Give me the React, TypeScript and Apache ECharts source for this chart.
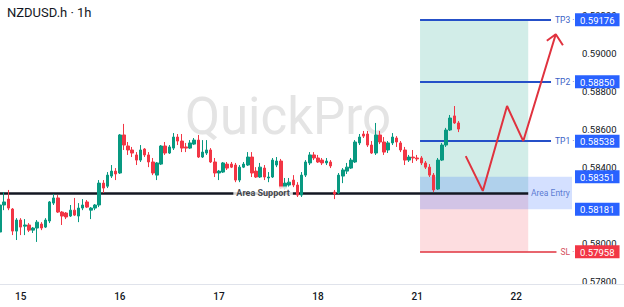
import React, { useEffect, useRef } from 'react';
import * as echarts from 'echarts';

const categoryCount = 139;
const dayLabels = ['15', '16', '17', '18', '21', '22'];
const dayStartIndex = [5, 29, 53, 77, 101, 125];

// hourly candles (NZDUSD.h, 1h)
const opens = [
  0.58061, 0.58203, 0.58234, 0.58182, 0.58066, 0.58124, 0.58092, 0.58098, 0.58071, 0.58082,
  0.58103, 0.58087, 0.58119, 0.58213, 0.5824, 0.58166, 0.58161, 0.58145, 0.58176, 0.58145,
  0.58187, 0.58219, 0.58176, 0.58187, 0.58203, 0.58318, 0.58302, 0.58355, 0.58381, 0.58371,
  0.58571, 0.58513, 0.58492, 0.58466, 0.58439, 0.58497, 0.58466, 0.58429, 0.5836, 0.58418,
  0.58513, 0.58476, 0.58502, 0.5856, 0.58539, 0.58508, 0.58502, 0.58523, 0.58544, 0.58455,
  0.58476, 0.58492, 0.58429, 0.58371, 0.58376, 0.58418, 0.58418, 0.58413, 0.58334, 0.58402,
  0.58413, 0.58455, 0.58381, 0.5835, 0.58397, 0.58345, 0.5835, 0.58413, 0.58434, 0.58292,
  0.58308, 0.58334, 0.58308, 0.58255, 0.5836, 0.58424, 0.58466, 0.5845, 0.58439, 0.58424,
  0.58429, 0.58271, 0.58266, 0.58355, 0.58381, 0.58397, 0.58429, 0.58529, 0.58576, 0.58576,
  0.58518, 0.58476, 0.58571, 0.58534, 0.58492, 0.58529, 0.58555, 0.58529, 0.58492, 0.58439,
  0.58455, 0.5845, 0.5845, 0.58424, 0.58402, 0.5836, 0.58287, 0.58439, 0.58518, 0.58597,
  0.58671, 0.58634,
];
const closes = [
  0.58203, 0.58219, 0.58187, 0.58066, 0.58124, 0.58087, 0.58098, 0.58071, 0.58082, 0.58113,
  0.58082, 0.58124, 0.58219, 0.5824, 0.58166, 0.58145, 0.5814, 0.58176, 0.5815, 0.58187,
  0.58203, 0.58192, 0.58187, 0.58203, 0.58318, 0.58292, 0.5836, 0.58381, 0.58366, 0.58571,
  0.58518, 0.58492, 0.58476, 0.58439, 0.58492, 0.58466, 0.58429, 0.58371, 0.58424, 0.58513,
  0.58476, 0.58508, 0.5856, 0.58539, 0.58502, 0.58502, 0.58529, 0.58544, 0.58455, 0.58481,
  0.58492, 0.58429, 0.58371, 0.58381, 0.58424, 0.58397, 0.58402, 0.58334, 0.58402, 0.58418,
  0.58455, 0.58371, 0.5835, 0.58402, 0.5835, 0.5835, 0.58439, 0.58434, 0.58292, 0.58318,
  0.58323, 0.58308, 0.58255, 0.5836, 0.58429, 0.58466, 0.5845, 0.58429, 0.58424, 0.58434,
  0.58408, 0.58261, 0.5836, 0.58387, 0.58402, 0.58439, 0.58534, 0.5856, 0.58565, 0.58518,
  0.58476, 0.58571, 0.58534, 0.58481, 0.58529, 0.5856, 0.58534, 0.58492, 0.58439, 0.58455,
  0.5845, 0.58445, 0.58424, 0.58402, 0.5836, 0.58282, 0.58439, 0.58518, 0.58597, 0.5866,
  0.58634, 0.58602,
];
const lows = [
  0.58019, 0.58176, 0.58176, 0.58045, 0.58019, 0.58045, 0.58045, 0.58061, 0.58056, 0.58009,
  0.58071, 0.58082, 0.58108, 0.58203, 0.58161, 0.58098, 0.58129, 0.5814, 0.58145, 0.58113,
  0.58176, 0.58187, 0.58129, 0.58176, 0.58192, 0.58266, 0.58292, 0.58345, 0.58334, 0.58366,
  0.58492, 0.58466, 0.58455, 0.58413, 0.58429, 0.58455, 0.58402, 0.5836, 0.58334, 0.58413,
  0.58466, 0.58471, 0.58492, 0.58518, 0.58481, 0.58481, 0.58497, 0.58518, 0.5845, 0.5845,
  0.58466, 0.58424, 0.5835, 0.58334, 0.58371, 0.58387, 0.58397, 0.58323, 0.58323, 0.58397,
  0.58408, 0.5835, 0.58345, 0.58345, 0.58334, 0.58323, 0.58345, 0.58402, 0.58287, 0.58282,
  0.58297, 0.58297, 0.58245, 0.58245, 0.5835, 0.58413, 0.58439, 0.58424, 0.58413, 0.58413,
  0.58397, 0.58234, 0.58261, 0.58318, 0.58366, 0.58392, 0.58424, 0.58518, 0.58555, 0.58508,
  0.58471, 0.58466, 0.58523, 0.58466, 0.58476, 0.58518, 0.58508, 0.58481, 0.58413, 0.58429,
  0.58424, 0.58434, 0.58413, 0.58392, 0.5835, 0.58271, 0.58282, 0.58434, 0.58508, 0.58592,
  0.58629, 0.58586,
];
const highs = [
  0.58408, 0.58271, 0.58282, 0.58187, 0.58134, 0.58134, 0.58129, 0.58108, 0.58087, 0.58124,
  0.58113, 0.58134, 0.58224, 0.58261, 0.58255, 0.58171, 0.58166, 0.58203, 0.5824, 0.58213,
  0.58234, 0.58229, 0.58192, 0.58208, 0.58334, 0.58334, 0.58376, 0.58413, 0.58397, 0.58576,
  0.58629, 0.58534, 0.58508, 0.58481, 0.58518, 0.58502, 0.58481, 0.5845, 0.58429, 0.58518,
  0.58534, 0.58518, 0.58581, 0.58576, 0.58576, 0.58529, 0.58544, 0.58555, 0.58571, 0.58544,
  0.58544, 0.58502, 0.5845, 0.58387, 0.58429, 0.58429, 0.58429, 0.58424, 0.58413, 0.58429,
  0.58481, 0.58481, 0.58402, 0.58424, 0.58413, 0.58376, 0.5845, 0.58455, 0.58445, 0.58345,
  0.58345, 0.5836, 0.58323, 0.58376, 0.58439, 0.58481, 0.58481, 0.58466, 0.5845, 0.5845,
  0.58439, 0.58282, 0.58371, 0.58397, 0.58424, 0.5845, 0.58544, 0.58576, 0.58592, 0.58592,
  0.58539, 0.58634, 0.58592, 0.5856, 0.58539, 0.58581, 0.58565, 0.58539, 0.58508, 0.58466,
  0.58492, 0.58466, 0.5846, 0.58434, 0.58418, 0.58371, 0.5845, 0.58529, 0.58608, 0.58676,
  0.58723, 0.58644,
];

// price scale labels visible in the reference (0.58200 is hidden behind a level tag there)
const priceTicks = [0.578, 0.58, 0.584, 0.586, 0.588, 0.59, 0.592];
const tpNames = ['TP3', 'TP2', 'TP1'];
const tpPrices = [0.59176, 0.5885, 0.58538];
const slPrice = 0.57958;
const entryPrice = 0.58266;
const entryZone = [0.58181, 0.58351];
const levelPrices = [0.59176, 0.5885, 0.58538, 0.58351, 0.58181, 0.57958];
const levelIsStop = [false, false, false, false, false, true];

// projected path (x in bar index units, y in price)
const pathX = [112.77, 116.9, 122.77, 126.7, 134.57];
const pathY = [0.5846, 0.58277, 0.58723, 0.58539, 0.591];
const arrowX = [132.4, 134.57, 136.3];
const arrowY = [0.59066, 0.591, 0.59042];

const yMin = 0.57788;
const yMax = 0.5928;
const toolStart = 101.7;
const toolEnd = 127.9;
const tpLineEnd = 133.42;
const slLineEnd = 134.74;
const axisEnd = categoryCount - 0.5;

const BLUE_LINE = '#2550c8';
const RED = '#e0323e';

export default function App() {
  const ref = useRef<HTMLDivElement>(null);
  useEffect(() => {
    if (!ref.current) return;
    const chart = echarts.init(ref.current, undefined, { renderer: 'svg' });
    const categories = Array.from({ length: categoryCount }, (_, i) => String(i));
    const candleData = opens.map((o, i) => [o, closes[i], lows[i], highs[i]]);

    const tpLines = tpPrices.map((p, i) => [
      {
        coord: [toolStart, p],
        lineStyle: { color: BLUE_LINE, width: 2, type: 'solid' },
        label: {
          show: true,
          position: 'end',
          distance: 4,
          formatter: tpNames[i] + ' ·',
          color: '#3a5fc6',
          fontSize: 8.5,
          fontFamily: 'Roboto',
        },
      },
      { coord: [tpLineEnd, p] },
    ]);
    const slLine = [
      {
        coord: [toolStart, slPrice],
        lineStyle: { color: RED, width: 1.5, type: 'solid' },
        label: {
          show: true,
          position: 'end',
          distance: 4,
          formatter: 'SL ·',
          color: '#d5505e',
          fontSize: 8.5,
          fontFamily: 'Roboto',
        },
      },
      { coord: [slLineEnd, slPrice] },
    ];
    const supportLine = [
      {
        coord: [-0.5, entryPrice],
        lineStyle: { color: '#131722', width: 2.5, type: 'solid' },
        label: { show: false },
      },
      { coord: [toolEnd, entryPrice] },
    ];

    const option: any = {
      animation: false,
      textStyle: { fontFamily: 'Roboto' },
      grid: { left: -2, right: 52, top: 0, bottom: 23, outerBoundsMode: 'none', containLabel: false },
      xAxis: [
        {
          type: 'category',
          data: categories,
          boundaryGap: true,
          axisLine: { show: false },
          axisTick: { show: false },
          splitLine: { show: false },
          axisLabel: {
            interval: (index: number) => dayStartIndex.includes(index),
            formatter: (_v: string, index: number) => {
              const k = dayStartIndex.indexOf(index);
              return k >= 0 ? dayLabels[k] : '';
            },
            color: '#131722',
            fontSize: 10,
            fontWeight: 500,
            margin: 7,
          },
        },
        { type: 'value', min: -0.5, max: axisEnd, show: false },
      ],
      yAxis: [
        {
          type: 'value',
          position: 'right',
          min: yMin,
          max: yMax,
          splitLine: { show: false },
          axisLine: { show: false },
          axisTick: { show: false },
          axisLabel: {
            customValues: priceTicks,
            formatter: (v: number) => v.toFixed(5),
            margin: 10,
            color: '#131722',
            fontSize: 9.5,
          },
        },
        {
          type: 'value',
          position: 'right',
          min: yMin,
          max: yMax,
          z: 5,
          splitLine: { show: false },
          axisLine: { show: false },
          axisTick: { show: false },
          axisLabel: {
            customValues: levelPrices,
            margin: 3,
            formatter: (v: number) => {
              const i = levelPrices.findIndex((p) => Math.abs(p - v) < 1e-7);
              const s = v.toFixed(5);
              return i >= 0 && levelIsStop[i] ? `{r|${s}}` : `{b|${s}}`;
            },
            rich: {
              b: { backgroundColor: '#2962ff', color: '#ffffff', padding: [2, 5, 1, 5], fontSize: 9.5, lineHeight: 11, fontFamily: 'Roboto' },
              r: { backgroundColor: '#f23645', color: '#ffffff', padding: [2, 5, 1, 5], fontSize: 9.5, lineHeight: 11, fontFamily: 'Roboto' },
            },
          },
        },
      ],
      graphic: [
        {
          type: 'text',
          z: 0,
          x: 288,
          y: 116,
          silent: true,
          style: {
            text: 'QuickPro',
            fontSize: 51,
            fontFamily: 'Roboto',
            fill: '#e4e4e4',
            align: 'center',
            verticalAlign: 'middle',
          },
        },
        {
          type: 'text',
          z: 100,
          x: 7,
          y: 12.5,
          style: {
            text: 'NZDUSD.h · 1h',
            fontSize: 13,
            fontFamily: 'Roboto',
            fill: '#131722',
            align: 'left',
            verticalAlign: 'middle',
          },
        },
        {
          type: 'line',
          z: 50,
          silent: true,
          shape: { x1: 0, y1: 284.5, x2: 624, y2: 284.5 },
          style: { stroke: '#e0e3eb', lineWidth: 1 },
        },
      ],
      series: [
        {
          type: 'line',
          xAxisIndex: 1,
          yAxisIndex: 0,
          data: [],
          z: 1,
          silent: true,
          markArea: {
            silent: true,
            z: 1,
            label: { show: false },
            data: [
              [{ coord: [toolStart, entryPrice], itemStyle: { color: 'rgba(8,153,129,0.18)' } }, { coord: [toolEnd, tpPrices[0]] }],
              [{ coord: [toolStart, slPrice], itemStyle: { color: 'rgba(242,54,69,0.17)' } }, { coord: [toolEnd, entryPrice] }],
              [{ coord: [toolStart, entryZone[0]], itemStyle: { color: 'rgba(41,98,255,0.2)' } }, { coord: [axisEnd, entryZone[1]] }],
            ],
          },
        },
        {
          type: 'line',
          xAxisIndex: 1,
          yAxisIndex: 0,
          data: [],
          z: 2,
          silent: true,
          markLine: {
            silent: true,
            z: 2,
            symbol: ['none', 'none'],
            data: [supportLine, ...tpLines, slLine],
          },
        },
        {
          type: 'candlestick',
          xAxisIndex: 0,
          yAxisIndex: 0,
          data: candleData,
          barWidth: 3,
          z: 3,
          itemStyle: {
            color: '#089981',
            color0: '#f23645',
            borderColor: '#089981',
            borderColor0: '#f23645',
            borderWidth: 1,
          },
        },
        {
          type: 'scatter',
          xAxisIndex: 1,
          yAxisIndex: 0,
          symbolSize: 0,
          z: 10,
          zlevel: 0,
          silent: true,
          data: [
            {
              value: [63.7, entryPrice],
              label: {
                show: true,
                position: 'inside',
                formatter: 'Area Support',
                backgroundColor: '#ffffff',
                padding: [2, 3],
                fontWeight: 'bold',
                fontSize: 9,
                color: '#131722',
              },
            },
            {
              value: [128.57, entryPrice],
              label: {
                show: true,
                position: 'right',
                distance: 0,
                formatter: 'Area Entry',
                fontSize: 8.5,
                color: '#3a5fc6',
              },
            },
          ],
        },
        {
          type: 'line',
          xAxisIndex: 1,
          yAxisIndex: 0,
          data: pathX.map((x, i) => [x, pathY[i]]),
          symbol: 'none',
          z: 6,
          silent: true,
          lineStyle: { color: RED, width: 2 },
        },
        {
          type: 'line',
          xAxisIndex: 1,
          yAxisIndex: 0,
          data: arrowX.map((x, i) => [x, arrowY[i]]),
          symbol: 'none',
          z: 6,
          silent: true,
          lineStyle: { color: RED, width: 2 },
        },
      ],
    };
    chart.setOption(option);
    return () => chart.dispose();
  }, []);
  return <div ref={ref} style={{ position: 'fixed', left: 0, top: 0, width: 624, height: 307, background: '#ffffff' }} />;
}
